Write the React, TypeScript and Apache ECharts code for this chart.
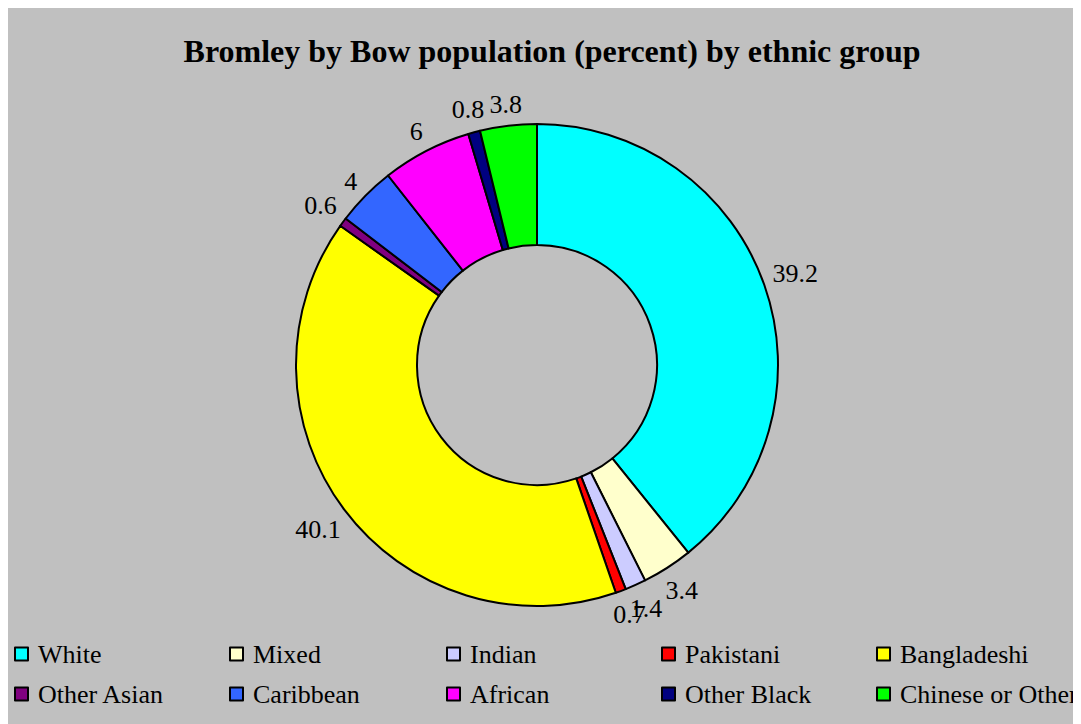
import React, { useEffect, useRef } from "react";
import * as echarts from "echarts";

const categories = [
  "White",
  "Mixed",
  "Indian",
  "Pakistani",
  "Bangladeshi",
  "Other Asian",
  "Caribbean",
  "African",
  "Other Black",
  "Chinese or Other",
];
const values = [39.2, 3.4, 1.4, 0.7, 40.1, 0.6, 4, 6, 0.8, 3.8];
const colors = [
  "#00FFFF",
  "#FFFFCC",
  "#CCCCFF",
  "#FF0000",
  "#FFFF00",
  "#800080",
  "#3366FF",
  "#FF00FF",
  "#000080",
  "#00FF00",
];
const titleText = "Bromley by Bow population (percent) by ethnic group";

const FONT = "Liberation Serif, Times New Roman, serif";

export default function App() {
  const ref = useRef<HTMLDivElement>(null);
  useEffect(() => {
    if (!ref.current) return;
    const chart = echarts.init(ref.current, undefined, { renderer: "svg" });
    const center = [529, 357];
    const outerR = 241;
    const innerR = 120;
    const gap = 7;
    const total = values.reduce((a, b) => a + b, 0);
    const midAngles: number[] = [];
    let acc = 0;
    values.forEach((v) => {
      midAngles.push(((acc + v / 2) / total) * Math.PI * 2);
      acc += v;
    });

    const colLeft = [6, 221, 438, 653, 868];
    const rowTop = [633, 673];
    const legends = categories.map((name, i) => ({
      data: [name],
      left: colLeft[i % 5],
      top: rowTop[Math.floor(i / 5)],
      orient: "horizontal",
      icon: "rect",
      itemWidth: 13,
      itemHeight: 13,
      selectedMode: false,
      padding: 0,
      itemStyle: { borderColor: "#000", borderWidth: 2 },
      textStyle: {
        fontFamily: FONT,
        fontSize: 26,
        color: "#000",
        padding: [0, 0, 0, 5],
      },
    }));
    chart.setOption({
      animation: false,
      backgroundColor: "#c0c0c0",
      title: {
        text: titleText,
        left: 539,
        textAlign: "center",
        top: 22,
        textStyle: {
          fontFamily: FONT,
          fontSize: 32,
          fontWeight: "bold",
          color: "#000",
        },
      },
      legend: legends,
      series: [
        {
          type: "pie",
          center,
          radius: [innerR, outerR],
          startAngle: 90,
          clockwise: true,
          avoidLabelOverlap: false,
          color: colors,
          itemStyle: { borderColor: "#000", borderWidth: 2 },
          label: {
            show: true,
            position: "outside",
            formatter: "{c}",
            fontFamily: FONT,
            fontSize: 26,
            color: "#000",
          },
          labelLine: { show: false, length: 8, length2: 0 },
          labelLayout: (p: any) => {
            const a = midAngles[p.dataIndex];
            const ux = Math.sin(a);
            const uy = -Math.cos(a);
            const w = p.labelRect.width;
            const h = p.labelRect.height;
            const half = (w / 2) * Math.abs(ux) + (h / 2) * Math.abs(uy);
            const d = outerR + gap + half;
            return {
              x: center[0] + d * ux,
              y: center[1] + d * uy,
              align: "center",
              verticalAlign: "middle",
              hideOverlap: false,
              moveOverlap: null,
            };
          },
          emphasis: { disabled: true },
          data: categories.map((name, i) => ({ name, value: values[i] })),
        },
      ],
    });
    return () => chart.dispose();
  }, []);
  return (
    <div
      style={{
        width: 1100,
        height: 740,
        marginLeft: -1,
        marginTop: -1,
        border: "1px solid #222",
        background: "#c0c0c0",
      }}
    >
      <div ref={ref} style={{ width: 1100, height: 740 }} />
    </div>
  );
}
